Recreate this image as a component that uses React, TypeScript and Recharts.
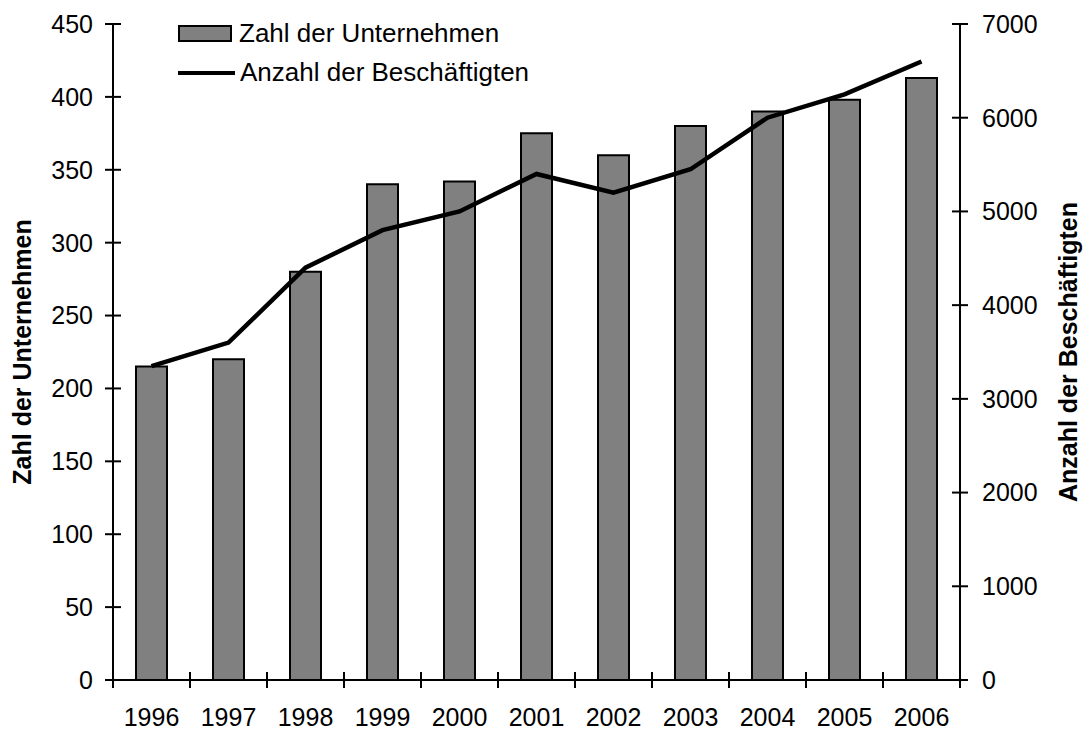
import React from 'react';
import { ComposedChart, Bar, Line, XAxis, YAxis, Legend } from 'recharts';

const years = ['1996', '1997', '1998', '1999', '2000', '2001', '2002', '2003', '2004', '2005', '2006'];
const unternehmen = [215, 220, 280, 340, 342, 375, 360, 380, 390, 398, 413];
const beschaeftigte = [3350, 3600, 4400, 4800, 5000, 5400, 5200, 5450, 6000, 6250, 6600];
const leftTicks = [0, 50, 100, 150, 200, 250, 300, 350, 400, 450];
const rightTicks = [0, 1000, 2000, 3000, 4000, 5000, 6000, 7000];

const barName = 'Zahl der Unternehmen';
const lineName = 'Anzahl der Beschäftigten';

const data = years.map((year, i) => ({
  year,
  unternehmen: unternehmen[i],
  beschaeftigte: beschaeftigte[i],
}));

const FONT = '"Liberation Sans", Arial, sans-serif';
const FS = 25;
const HALF_BAND = 38.5;

const LeftTick = (props: any) => {
  const { x, y, payload } = props;
  const ax = x + 20;
  return (
    <g>
      <line x1={ax - 8} x2={ax + 8} y1={y} y2={y} stroke="#000" strokeWidth={2} />
      <text x={x} y={y} dy="0.355em" textAnchor="end" fontSize={FS} fontFamily={FONT} fill="#000">
        {payload.value}
      </text>
    </g>
  );
};

const RightTick = (props: any) => {
  const { x, y, payload } = props;
  const ax = x - 22;
  return (
    <g>
      <line x1={ax - 8} x2={ax + 8} y1={y} y2={y} stroke="#000" strokeWidth={2} />
      <text x={x} y={y} dy="0.355em" textAnchor="start" fontSize={FS} fontFamily={FONT} fill="#000">
        {payload.value}
      </text>
    </g>
  );
};

const YearTick = (props: any) => {
  const { x, y, payload, index, visibleTicksCount } = props;
  const ay = y - 28;
  const last = index === visibleTicksCount - 1;
  return (
    <g>
      <line x1={x - HALF_BAND} x2={x - HALF_BAND} y1={ay - 8} y2={ay + 8} stroke="#000" strokeWidth={2} />
      {last && (
        <line x1={x + HALF_BAND} x2={x + HALF_BAND} y1={ay - 8} y2={ay + 8} stroke="#000" strokeWidth={2} />
      )}
      <text x={x} y={y} dy="0.71em" textAnchor="middle" fontSize={FS} fontFamily={FONT} fill="#000">
        {payload.value}
      </text>
    </g>
  );
};

const renderLegend = () => (
  <div style={{ fontFamily: FONT, fontSize: 26, color: '#000', lineHeight: '39px', whiteSpace: 'nowrap' }}>
    <div style={{ display: 'flex', alignItems: 'center' }}>
      <span style={{ display: 'inline-block', width: 50, height: 13, background: '#808080', border: '2px solid #000', marginRight: 7 }} />
      {barName}
    </div>
    <div style={{ display: 'flex', alignItems: 'center' }}>
      <span style={{ display: 'inline-block', width: 57, height: 4, background: '#000', marginRight: 5 }} />
      {lineName}
    </div>
  </div>
);

const leftLabel = (props: any) => {
  const vb = props.viewBox;
  const cx = vb.x + 22;
  const cy = vb.y + vb.height / 2;
  return (
    <text transform={`translate(${cx},${cy}) rotate(-90)`} textAnchor="middle" dy="0.355em"
      fontSize={FS} fontWeight="bold" fontFamily={FONT} fill="#000">
      {barName}
    </text>
  );
};

const rightLabel = (props: any) => {
  const vb = props.viewBox;
  const cx = vb.x + 108;
  const cy = vb.y + vb.height / 2;
  return (
    <text transform={`translate(${cx},${cy}) rotate(-90)`} textAnchor="middle" dy="0.355em"
      fontSize={FS} fontWeight="bold" fontFamily={FONT} fill="#000">
      {lineName}
    </text>
  );
};

export default function App() {
  return (
    <div style={{ position: 'absolute', left: 0, top: 0, background: '#fff' }}>
      <ComposedChart width={1084} height={730} data={data} margin={{ top: 24, right: 0, bottom: 10, left: 0 }}>
        <XAxis
          dataKey="year"
          height={40}
          tickSize={8}
          tickMargin={20}
          tickLine={false}
          axisLine={{ stroke: '#000', strokeWidth: 2 }}
          tick={<YearTick />}
          interval={0}
        />
        <YAxis
          yAxisId="left"
          width={113}
          domain={[0, 450]}
          ticks={leftTicks}
          tickSize={8}
          tickMargin={12}
          tickLine={false}
          axisLine={{ stroke: '#000', strokeWidth: 2 }}
          tick={<LeftTick />}
          label={{ content: leftLabel }}
        />
        <YAxis
          yAxisId="right"
          orientation="right"
          width={124}
          domain={[0, 7000]}
          ticks={rightTicks}
          tickSize={8}
          tickMargin={14}
          tickLine={false}
          axisLine={{ stroke: '#000', strokeWidth: 2 }}
          tick={<RightTick />}
          label={{ content: rightLabel }}
        />
        <Legend
          layout="horizontal"
          align="center"
          verticalAlign="middle"
          wrapperStyle={{ left: 178, top: 14, width: 420, height: 80 }}
          content={renderLegend}
        />
        <Bar
          yAxisId="left"
          dataKey="unternehmen"
          name={barName}
          fill="#808080"
          stroke="#000"
          strokeWidth={2}
          barSize={31}
          isAnimationActive={false}
        />
        <Line
          yAxisId="right"
          dataKey="beschaeftigte"
          name={lineName}
          type="linear"
          stroke="#000"
          strokeWidth={4.5}
          dot={false}
          isAnimationActive={false}
        />
      </ComposedChart>
    </div>
  );
}
